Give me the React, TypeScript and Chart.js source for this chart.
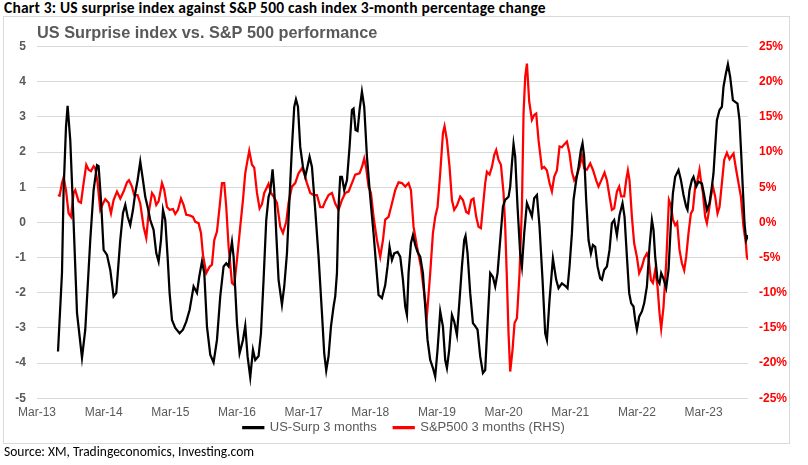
import { useEffect, useRef } from "react";
import { Chart, registerables } from "chart.js";

Chart.register(...registerables);

// x values: months elapsed since Mar-2013
const xTickLabels = ["Mar-13", "Mar-14", "Mar-15", "Mar-16", "Mar-17", "Mar-18", "Mar-19", "Mar-20", "Mar-21", "Mar-22", "Mar-23"];

const surpMonths = [3.78,4.5,4.79,5.22,5.51,5.99,6.59,7.2,8.1,8.69,9.59,10.19,10.8,11.09,11.52,11.99,12.6,13.19,13.79,14.27,14.99,15.48,15.89,16.31,16.79,17.28,17.69,18.11,18.59,19.08,19.49,19.91,20.39,20.99,21.47,21.89,22.32,22.68,23.09,23.51,23.87,24.3,24.89,25.67,26.28,26.87,27.47,28.19,28.8,29.21,29.7,30.11,30.6,31.19,31.79,32.4,32.99,33.59,34.07,34.49,34.79,35.1,35.39,36.0,36.47,37.08,37.49,37.91,38.39,38.88,39.29,39.89,40.32,40.79,41.27,41.69,41.99,42.41,42.71,43.07,43.49,44.1,44.51,45.0,45.47,45.9,46.31,46.62,46.98,47.39,47.88,48.29,48.71,49.07,49.5,50.09,50.69,51.3,51.71,52.07,52.49,52.92,53.39,53.69,54.0,54.29,54.59,54.9,55.31,55.8,56.27,56.7,56.99,57.35,57.71,58.07,58.5,58.91,59.4,59.99,60.59,61.07,61.49,62.1,62.69,63.11,63.47,63.9,64.31,64.91,65.39,65.88,66.29,66.6,66.89,67.32,67.68,68.09,68.51,68.99,69.48,69.89,70.31,70.79,71.28,71.69,72.11,72.59,73.08,73.49,73.8,74.21,74.7,75.11,75.6,76.07,76.5,76.91,77.15,77.51,77.99,78.48,78.89,79.31,79.79,80.28,80.69,81.11,81.59,82.08,82.49,82.91,83.39,83.88,84.29,84.89,85.19,85.5,85.79,86.09,86.51,86.99,87.3,87.71,88.2,88.67,89.1,89.51,90.0,90.47,91.01,91.49,91.8,92.27,92.88,93.47,93.89,94.5,95.09,95.51,95.87,96.3,96.59,97.07,97.49,97.92,98.21,98.51,98.87,99.29,99.72,100.08,100.49,100.91,101.39,101.7,102.11,102.6,103.07,103.5,103.91,104.4,104.87,105.41,105.77,106.2,106.61,106.97,107.39,107.69,108.0,108.41,108.9,109.31,109.8,110.27,110.7,110.99,111.29,111.71,112.07,112.37,112.79,113.27,113.69,114.12,114.48,114.89,115.49,115.92,116.39,116.87,117.11,117.47,117.9,118.19,118.67,119.09,119.7,120.11,120.6,121.07,121.5,121.79,122.09,122.4,122.87,123.3,123.59,124.02,124.38,124.79,125.28,125.69,126.11,126.47,126.77,127.08,127.37,127.67,127.91,128.0];

const surpValues = [-3.67,-1.43,0.92,2.72,3.32,2.34,-0.01,-2.57,-3.85,-3.05,-0.5,0.92,1.63,1.6,0.64,-0.78,-0.92,-1.35,-2.1,-2.0,-0.5,0.27,0.5,0.17,-0.07,0.36,0.84,1.2,1.73,1.2,0.73,0.45,0.07,-0.21,-0.87,-1.11,-0.5,0.36,0.07,-0.97,-2.0,-2.77,-3.0,-3.15,-3.05,-2.82,-2.49,-1.82,-2.0,-1.54,-1.11,-1.43,-2.96,-3.76,-3.98,-3.34,-2.1,-1.25,-1.16,-1.25,-0.88,-0.55,-0.97,-2.86,-3.72,-3.34,-2.94,-3.81,-4.4,-3.62,-3.91,-3.8,-3.15,-1.63,0.07,0.73,0.88,1.51,0.92,-0.31,-1.63,-2.34,-1.82,-0.88,0.73,2.15,3.29,3.5,3.29,2.15,1.58,1.3,1.6,1.87,1.58,0.36,-0.97,-2.58,-3.72,-4.21,-3.8,-2.96,-2.39,-2.1,-1.44,0.45,1.3,1.3,0.92,1.2,2.15,3.2,3.24,2.63,2.6,3.2,3.72,3.29,1.87,0.73,-0.31,-1.25,-2.06,-2.15,-1.78,-1.25,-0.69,-1.07,-0.88,-0.84,-0.97,-1.63,-2.39,-2.63,-1.44,-0.59,-0.36,-0.64,-0.84,-0.97,-1.44,-2.39,-3.34,-3.91,-4.14,-4.38,-3.62,-2.53,-2.96,-3.91,-4.14,-3.62,-2.63,-2.82,-3.2,-2.2,-1.25,-0.5,-0.38,-0.88,-2.01,-2.86,-2.95,-3.05,-3.81,-4.28,-4.2,-2.86,-1.44,-1.55,-1.82,-1.44,-0.5,0.45,0.64,0.73,1.02,1.68,2.23,1.87,0.45,-0.88,-1.25,-0.31,0.55,0.36,0.17,0.69,0.78,-0.12,-1.63,-3.15,-3.34,-2.2,-1.02,-1.63,-1.87,-1.73,-1.8,-1.87,-1.25,-0.31,0.64,1.2,1.58,2.06,2.25,1.87,0.64,-0.5,-0.88,-0.64,-0.69,-1.25,-1.59,-1.63,-1.35,-1.25,-0.78,-0.02,0.07,-0.36,0.21,0.55,0.17,-0.97,-2.01,-2.3,-2.39,-2.77,-3.05,-2.68,-2.53,-2.3,-1.82,-0.69,0.07,-0.21,-0.97,-1.63,-1.73,-1.44,-1.6,-1.87,-1.35,-0.02,0.83,1.3,1.49,1.21,0.78,0.45,0.36,0.92,1.21,1.3,1.02,1.16,1.11,0.78,0.36,0.55,1.02,1.4,2.15,2.91,3.2,3.29,3.86,4.24,4.5,4.14,3.48,3.43,3.38,2.91,1.97,0.92,-0.02,-0.5,-0.4,-0.36];

const spxMonths = [3.78,4.07,4.5,4.79,5.22,5.69,6.12,6.59,6.89,7.49,7.92,8.39,8.87,9.29,9.72,10.19,10.49,10.91,11.39,11.88,12.29,12.89,13.32,13.79,14.4,14.99,15.59,16.2,16.56,17.1,17.51,18.11,18.59,19.19,19.67,20.09,20.7,21.11,21.47,21.89,22.5,22.91,23.4,23.87,24.48,24.89,25.38,25.92,26.39,26.87,27.47,28.08,28.49,29.09,29.52,29.88,30.47,31.07,31.5,31.91,32.4,32.87,33.3,33.71,34.07,34.49,35.1,35.51,36.0,36.59,37.08,37.49,37.91,38.21,38.7,39.11,39.6,40.07,40.5,40.91,41.69,42.12,42.59,43.2,43.79,44.28,44.87,45.29,45.9,46.49,47.09,47.7,48.11,48.6,49.19,49.79,50.4,50.99,51.48,51.89,52.49,53.1,53.69,54.29,54.9,55.49,56.09,56.7,57.29,58.07,58.5,58.91,59.27,59.69,60.12,60.59,61.2,61.79,62.28,62.69,63.29,63.9,64.49,65.09,65.7,66.29,66.89,67.32,67.79,68.4,69.12,69.71,70.2,70.79,71.28,71.69,72.11,72.59,73.08,73.37,73.8,74.27,74.7,75.11,75.6,76.19,76.68,77.27,77.69,78.17,78.59,79.07,79.49,79.92,80.28,80.69,81.0,81.47,81.9,82.31,82.67,83.09,83.52,83.99,84.29,84.6,84.89,85.19,85.61,85.97,86.4,86.87,87.3,87.59,87.89,88.2,88.61,89.1,89.51,89.87,90.29,90.9,91.31,91.8,92.27,92.7,93.11,93.6,94.07,94.5,94.91,95.4,95.87,96.3,96.71,97.2,97.67,98.1,98.51,98.99,99.59,100.08,100.67,101.09,101.7,102.17,102.6,103.07,103.5,103.91,104.4,104.81,105.17,105.71,106.07,106.38,106.67,107.1,107.51,108.0,108.41,108.9,109.31,109.8,110.09,110.52,110.88,111.29,111.71,112.07,112.37,112.79,113.27,113.51,113.76,114.12,114.48,114.89,115.25,115.67,116.1,116.51,116.87,117.29,117.72,118.08,118.49,118.91,119.27,119.52,119.88,120.29,120.6,120.89,121.32,121.68,122.09,122.51,122.87,123.3,123.71,124.2,124.67,125.1,125.39,125.87,126.29,126.72,127.19,127.62,127.8,128.0];

const spxValues = [3.9,3.8,5.6,6.4,4.6,1.3,0.8,4.2,4.6,3.0,2.8,5.6,8.2,7.5,7.3,8.0,7.7,5.6,1.8,2.7,3.3,2.8,1.3,3.2,4.4,3.4,4.4,5.7,6.0,5.1,3.9,3.9,2.7,-0.6,-2.2,1.3,4.2,3.7,2.5,3.0,5.6,4.6,2.2,1.8,1.9,1.2,1.8,3.4,2.5,1.1,1.0,0.8,0.1,-0.1,-1.5,-4.6,-7.2,-6.3,-6.0,-2.5,-1.3,2.2,5.6,5.6,2.2,-3.4,-8.6,-8.9,-5.3,-0.6,3.2,7.0,8.9,10.2,8.2,7.8,4.2,2.0,2.6,4.2,5.5,4.2,3.7,2.8,-0.6,-1.5,0.1,2.8,5.1,5.6,7.0,7.7,7.0,5.6,4.2,3.9,3.9,2.2,2.2,3.0,3.9,4.2,2.7,1.8,3.2,4.2,4.4,5.6,6.8,7.0,7.9,9.1,7.7,5.1,4.2,0.8,-2.5,-4.9,-2.5,0.4,0.8,2.7,4.6,5.7,5.6,5.1,5.6,4.6,-0.6,-3.4,-6.3,-10.1,-13.2,-7.2,-1.5,0.8,2.2,7.0,12.7,13.7,11.7,7.9,3.2,1.8,2.4,3.7,3.2,1.5,1.3,3.2,3.4,0.8,-0.6,-0.8,2.2,5.6,7.2,6.8,7.9,9.6,10.3,8.9,8.2,4.2,-0.6,-8.2,-15.8,-21.2,-18.1,-14.3,-13.6,-7.2,2.2,15.5,20.7,22.6,17.2,14.6,15.3,15.5,11.7,7.7,7.9,7.4,5.6,4.4,6.5,7.4,10.8,10.7,11.1,11.5,9.8,7.2,6.0,6.7,7.9,9.5,7.7,7.5,8.4,7.5,6.0,5.1,6.2,7.1,6.0,3.7,1.8,2.0,4.4,5.1,3.7,3.7,6.0,7.4,6.0,0.8,-3.0,-4.9,-7.2,-6.3,-5.1,-4.4,-5.0,-8.2,-8.6,-6.8,-9.1,-12.9,-15.1,-12.0,-5.8,-1.5,3.2,2.4,0.4,-0.4,0.0,-3.9,-5.8,-6.8,-4.9,-1.5,1.3,1.8,5.1,6.0,7.5,6.0,4.2,0.8,-0.1,1.3,3.7,5.1,3.7,1.3,2.2,5.6,8.9,9.9,9.0,9.5,9.8,7.5,5.6,3.7,-0.6,-3.0,-4.9,-5.3];

const seriesNames = ["US-Surp 3 months", "S&P500 3 months (RHS)"];
const chartTitle = "US Surprise index vs. S&P 500 performance";

const toPoints = (xs: number[], ys: number[]) => xs.map((x, i) => ({ x, y: ys[i] }));

const SANS = "'Liberation Sans', Arial, sans-serif";
const CALIBRI = "Carlito, Lato, 'Open Sans', sans-serif";

// let the x tick labels draw below the (short) x-axis box without being clipped
const unclipXLabels = {
  id: "unclipXLabels",
  beforeDraw(chart: any) {
    const sx = chart.scales?.x;
    if (sx) sx._computeLabelArea = () => undefined;
  },
};

export default function App() {
  const ref = useRef<HTMLCanvasElement>(null);

  useEffect(() => {
    if (!ref.current) return;
    Chart.defaults.font.family = SANS;
    const chart = new Chart(ref.current, {
      type: "line",
      data: {
        datasets: [
          {
            label: seriesNames[0],
            data: toPoints(surpMonths, surpValues),
            borderColor: "#000000",
            backgroundColor: "#000000",
            borderWidth: 2.25,
            pointRadius: 0,
            tension: 0,
            yAxisID: "y",
          },
          {
            label: seriesNames[1],
            data: toPoints(spxMonths, spxValues),
            borderColor: "#ff0000",
            backgroundColor: "#ff0000",
            borderWidth: 2.25,
            pointRadius: 0,
            tension: 0,
            yAxisID: "y1",
          },
        ],
      },
      options: {
        animation: false,
        responsive: false,
        maintainAspectRatio: false,
        events: [],
        layout: { padding: { top: 16, left: 0, right: 0, bottom: 20.8 } },
        scales: {
          x: {
            type: "linear",
            min: 0,
            max: 128,
            grid: { display: false, drawTicks: false },
            border: { display: false },
            ticks: {
              stepSize: 12,
              autoSkip: false,
              maxRotation: 0,
              padding: 7,
              color: "#595959",
              font: { size: 12 },
              callback: (v: any) => xTickLabels[Math.round(Number(v) / 12)] ?? "",
            },
            afterBuildTicks: (s: any) => {
              s.ticks = s.ticks.filter((t: any) => Math.abs(t.value % 12) < 1e-6);
            },
            afterFit: (s: any) => {
              s.height = 5.9;
            },
          },
          y: {
            position: "left",
            min: -5,
            max: 5,
            grid: { color: "#d9d9d9", drawTicks: false, lineWidth: 1 },
            border: { display: false },
            ticks: {
              stepSize: 1,
              padding: 11,
              color: "#595959",
              font: { size: 12, weight: "bold" },
            },
            afterFit: (s: any) => {
              s.width = 37;
            },
          },
          y1: {
            position: "right",
            min: -25,
            max: 25,
            grid: { drawOnChartArea: false, drawTicks: false },
            border: { display: false },
            ticks: {
              stepSize: 5,
              padding: 11,
              color: "#ff0000",
              font: { size: 12, weight: "bold" },
              callback: (v: any) => `${v}%`,
            },
            afterFit: (s: any) => {
              s.width = 60;
            },
          },
        },
        plugins: {
          title: {
            display: true,
            text: chartTitle,
            align: "start",
            fullSize: false,
            color: "#595959",
            font: { size: 16.3, weight: "bold", family: SANS },
            padding: { top: 8, bottom: 3.1 },
          },
          legend: {
            position: "bottom",
            labels: {
              boxWidth: 20,
              boxHeight: 1,
              padding: 17,
              color: "#595959",
              font: { size: 13 },
            },
          },
          tooltip: { enabled: false },
        },
      },
      plugins: [unclipXLabels],
    });
    return () => chart.destroy();
  }, []);

  return (
    <div style={{ position: "absolute", left: 0, top: 0, width: 808, height: 465, background: "#ffffff", overflow: "hidden" }}>
      <div
        style={{
          position: "absolute",
          left: 4,
          top: -1,
          fontFamily: CALIBRI,
          fontWeight: "bold",
          fontSize: 15.5,
          letterSpacing: "0.2px",
          lineHeight: "18px",
          color: "#000000",
          whiteSpace: "nowrap",
        }}
      >
        Chart 3: US surprise index against S&amp;P 500 cash index 3-month percentage change
      </div>
      <div
        style={{
          position: "absolute",
          left: 3,
          top: 16,
          width: 787,
          height: 428,
          boxSizing: "border-box",
          border: "1px solid #d9d9d9",
        }}
      />
      <canvas ref={ref} width={808} height={465} style={{ position: "absolute", left: 0, top: 0, width: 808, height: 465 }} />
      <div
        style={{
          position: "absolute",
          left: 4,
          top: 444,
          fontFamily: CALIBRI,
          fontSize: 13.5,
          lineHeight: "16px",
          color: "#000000",
          whiteSpace: "nowrap",
        }}
      >
        Source: XM, Tradingeconomics, Investing.com
      </div>
    </div>
  );
}
